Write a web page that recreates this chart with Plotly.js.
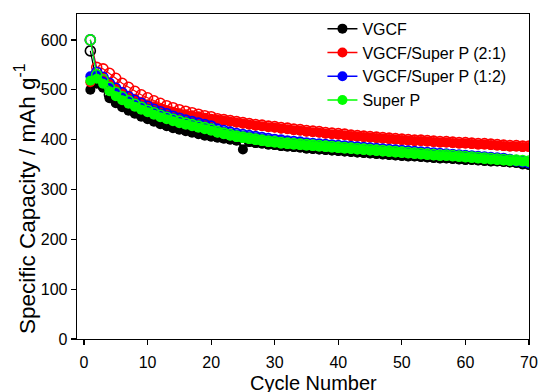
<!DOCTYPE html>
<html>
<head>
<meta charset="utf-8">
<script src="https://cdn.plot.ly/plotly-3.0.1.min.js"></script>
<style>html,body{margin:0;padding:0;background:#fff;}#chart{width:540px;height:392px;}</style>
</head>
<body>
<div id="chart"></div>
<script>
const cycles = [1,2,3,4,5,6,7,8,9,10,11,12,13,14,15,16,17,18,19,20,21,22,23,24,25,26,27,28,29,30,31,32,33,34,35,36,37,38,39,40,41,42,43,44,45,46,47,48,49,50,51,52,53,54,55,56,57,58,59,60,61,62,63,64,65,66,67,68,69,70];

const seriesNames = ["VGCF", "VGCF/Super P (2:1)", "VGCF/Super P (1:2)", "Super P"];
const seriesColors = ["#000000", "#ff0000", "#0000ff", "#00ff00"];

// discharge (filled markers)
const vgcfDis = [500,512,504,483,473,465,458,452,446,441,436,431,427,423,420,417,414,411,408,406,404,402,400,398,380,395,393,392,390,389,387,386,385,384,382,381,380,379,378,377,376,375,374,373,372,371,370,369,368,367,366,366,365,364,363,362,362,361,360,359,359,358,357,356,356,355,354,353,350,349];
const mix21Dis = [515,528,522,512,503,495,488,482,476,471,467,463,459,456,453,451,449,447,444,442,440,438,436,434,432,430,428,427,425,424,422,421,419,418,416,415,414,412,411,410,409,407,406,405,404,403,402,401,400,399,398,397,397,396,395,394,394,393,392,392,391,390,390,389,388,387,386,386,385,385];
const mix12Dis = [527,530,516,505,495,487,480,473,467,462,457,452,448,444,440,436,433,430,427,424,419,416,413,410,408,406,404,402,400,398,397,395,394,393,391,390,389,388,387,386,385,384,383,382,381,380,379,378,377,376,375,374,373,372,371,370,369,368,367,366,365,364,363,362,361,360,358,356,354,352];
const superPDis = [518,522,512,497,487,479,472,466,460,455,450,445,441,437,433,430,427,424,421,418,414,411,408,405,403,401,399,397,395,394,392,391,390,389,388,387,386,385,384,383,382,381,380,379,378,377,376,375,374,373,372,371,370,369,368,367,367,366,365,364,363,362,361,360,359,358,357,357,356,355];

// charge (open markers)
const vgcfCha = [578,515,508,490,479,470,463,456,450,445,440,435,430,426,423,420,417,414,411,408,406,404,402,400,398,397,395,394,392,391,389,388,387,386,384,383,382,381,380,379,378,377,376,375,374,373,372,371,370,369,368,368,367,366,365,364,364,363,362,361,361,360,359,358,358,357,356,355,353,351];
const mix21Cha = [600,545,542,533,523,513,505,497,490,484,478,473,468,464,460,457,454,451,448,446,442,440,438,436,434,432,430,429,427,426,424,423,421,420,418,417,416,414,413,412,411,409,408,407,406,405,404,403,402,401,400,399,399,398,397,396,396,395,394,394,393,392,392,391,390,389,388,388,387,387];
const mix12Cha = [600,535,525,513,503,494,486,479,473,467,461,456,452,447,443,439,436,433,430,427,421,418,415,412,410,408,406,404,402,400,399,397,396,395,393,392,391,390,389,388,387,386,385,384,383,382,381,380,379,378,377,376,375,374,373,372,371,370,369,368,367,366,365,364,363,362,360,358,356,354];
const superPCha = [600,530,520,505,495,486,478,471,465,459,454,449,445,441,437,433,430,427,424,421,416,413,410,407,405,403,401,399,397,396,394,393,392,391,390,389,388,387,386,385,384,383,382,381,380,379,378,377,376,375,374,373,372,371,370,369,369,368,367,366,365,364,363,362,361,360,359,359,358,357];

const xTicks = [0,10,20,30,40,50,60,70];
const yTicks = [0,100,200,300,400,500,600];
const xTitle = 'Cycle Number';
const yTitle = 'Specific Capacity / mAh g<sup>-1</sup>';

const disList = [vgcfDis, mix21Dis, mix12Dis, superPDis];
const chaList = [vgcfCha, mix21Cha, mix12Cha, superPCha];

const traces = [];
for (let i = 0; i < 4; i++) {
  traces.push({
    x: cycles, y: chaList[i], type: 'scatter', mode: 'lines+markers',
    name: seriesNames[i] + ' charge', showlegend: false,
    line: {color: seriesColors[i], width: 1.2},
    marker: {symbol: 'circle-open', size: 10, color: seriesColors[i], line: {width: 1.6}}
  });
  traces.push({
    x: cycles, y: disList[i], type: 'scatter', mode: 'lines+markers',
    name: seriesNames[i],
    line: {color: seriesColors[i], width: 1.5},
    marker: {symbol: 'circle', size: 10, color: seriesColors[i]}
  });
}

const font = "Liberation Sans, Arial, sans-serif";
const layout = {
  width: 540, height: 392,
  margin: {l: 77, r: 11, t: 14, b: 53},
  paper_bgcolor: '#fff', plot_bgcolor: '#fff',
  font: {family: font, size: 16, color: '#000'},
  showlegend: true,
  legend: {x: 0.543, y: 1.007, xanchor: 'left', yanchor: 'top', bgcolor: 'rgba(0,0,0,0)',
           font: {family: font, size: 16, color: '#000'}, tracegroupgap: 0},
  xaxis: {
    range: [-1.1, 70], tickvals: xTicks, ticktext: xTicks.map(String),
    ticks: 'outside', ticklen: 5, tickwidth: 1.2, tickcolor: '#000', ticklabelstandoff: 3,
    showline: true, linecolor: '#000', linewidth: 1.3, mirror: true,
    showgrid: false, zeroline: false,
    tickfont: {family: font, size: 16, color: '#000'}
  },
  yaxis: {
    range: [0, 652], tickvals: yTicks, ticktext: yTicks.map(String),
    ticks: 'outside', ticklen: 5, tickwidth: 1.2, tickcolor: '#000',
    showline: true, linecolor: '#000', linewidth: 1.3, mirror: true,
    showgrid: false, zeroline: false,
    tickfont: {family: font, size: 16, color: '#000'}
  },
  annotations: [
    {text: xTitle, xref: 'paper', yref: 'paper', x: 0.524, y: -0.135, xanchor: 'center', yanchor: 'middle',
     showarrow: false, font: {family: font, size: 20, color: '#000'}},
    {text: yTitle, xref: 'paper', yref: 'paper', x: -0.115, y: 0.431, xanchor: 'center', yanchor: 'middle',
     textangle: -90, showarrow: false, font: {family: font, size: 22.5, color: '#000'}}
  ]
};

Plotly.newPlot('chart', traces, layout, {displayModeBar: false, staticPlot: true});
</script>
</body>
</html>
